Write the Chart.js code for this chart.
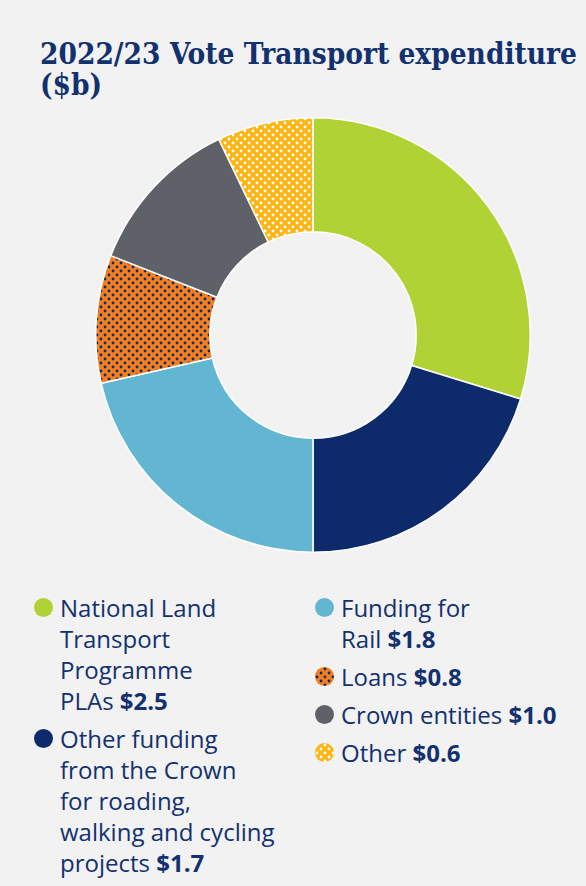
<!DOCTYPE html>
<html>
<head>
<meta charset="utf-8">
<script src="https://cdn.jsdelivr.net/npm/chart.js@4.4.0/dist/chart.umd.min.js"></script>
<style>
  html, body { margin: 0; padding: 0; }
  body { width: 586px; height: 886px; background: #f2f2f2; position: relative; overflow: hidden; font-family: "Open Sans", sans-serif; color: #13316e; }
  #title { position: absolute; left: 40px; top: 38px; margin: 0; font-family: "DejaVu Serif", serif; font-stretch: condensed; font-weight: bold; font-size: 29.5px; line-height: 31px; color: #13316e; white-space: nowrap; }
  #chartBox { position: absolute; left: 95px; top: 117px; width: 436px; height: 436px; }
  .col { position: absolute; top: 592px; }
  .item { position: relative; padding-left: 26px; font-size: 24px; line-height: 31px; margin-bottom: 7px; white-space: nowrap; }
  .item b { font-weight: 700; }
  .dot { position: absolute; left: 0; top: 6px; width: 19px; height: 19px; border-radius: 50%; }
  .dot canvas { border-radius: 50%; display: block; }
</style>
</head>
<body>
<h1 id="title">2022/23 Vote Transport expenditure<br>($b)</h1>
<div id="chartBox"><canvas id="donut"></canvas></div>
<div class="col" id="legLeft" style="left:34px; width:270px;"></div>
<div class="col" id="legRight" style="left:315px; width:270px;"></div>

<script>
// ---- data ----
const labels = [
  'National Land Transport Programme PLAs',
  'Other funding from the Crown for roading, walking and cycling projects',
  'Funding for Rail',
  'Loans',
  'Crown entities',
  'Other'
];
const values = [2.5, 1.7, 1.8, 0.8, 1.0, 0.6];
// legend wording as printed (line breaks as in the source)
const legendText = [
  'National Land<br>Transport<br>Programme<br>PLAs',
  'Other funding<br>from the Crown<br>for roading,<br>walking and cycling<br>projects',
  'Funding for<br>Rail',
  'Loans',
  'Crown entities',
  'Other'
];
const legendColumn = [0, 0, 1, 1, 1, 1];

const colors = ['#b1d235', '#0d2b6b', '#63b6d2', null, '#5e6268', null];

function makeDots(bg, dot, size) {
  const c = document.createElement('canvas');
  c.width = 8; c.height = 8;
  const g = c.getContext('2d');
  g.fillStyle = bg;
  g.fillRect(0, 0, 8, 8);
  g.fillStyle = dot;
  [[2, 2], [6, 6]].forEach(p => {
    g.beginPath();
    g.arc(p[0], p[1], size, 0, Math.PI * 2);
    g.fill();
  });
  return c;
}

const ctx = document.getElementById('donut').getContext('2d');
const loansTile = makeDots('#f47f20', '#0d2b6b', 1.4);
const otherTile = makeDots('#fdb515', '#ffffff', 1.4);
colors[3] = ctx.createPattern(loansTile, 'repeat');
colors[5] = ctx.createPattern(otherTile, 'repeat');

new Chart(ctx, {
  type: 'doughnut',
  data: {
    labels,
    datasets: [{
      data: values,
      backgroundColor: colors,
      borderColor: '#ffffff',
      borderWidth: 1.5,
      hoverOffset: 0
    }]
  },
  options: {
    responsive: true,
    maintainAspectRatio: false,
    animation: false,
    cutout: '47.5%',
    plugins: {
      legend: { display: false },
      tooltip: { enabled: false }
    }
  }
});

// ---- html legend ----
const cols = [document.getElementById('legLeft'), document.getElementById('legRight')];
labels.forEach((lab, i) => {
  const item = document.createElement('div');
  item.className = 'item';
  const dot = document.createElement('span');
  dot.className = 'dot';
  if (i === 3 || i === 5) {
    const c = document.createElement('canvas');
    c.width = 19; c.height = 19;
    const g = c.getContext('2d');
    g.fillStyle = g.createPattern(i === 3 ? loansTile : otherTile, 'repeat');
    g.fillRect(0, 0, 19, 19);
    dot.appendChild(c);
  } else {
    dot.style.background = colors[i];
  }
  item.appendChild(dot);
  const txt = document.createElement('span');
  txt.innerHTML = legendText[i] + ' <b>$' + values[i].toFixed(1) + '</b>';
  item.appendChild(txt);
  cols[legendColumn[i]].appendChild(item);
});
</script>
</body>
</html>
